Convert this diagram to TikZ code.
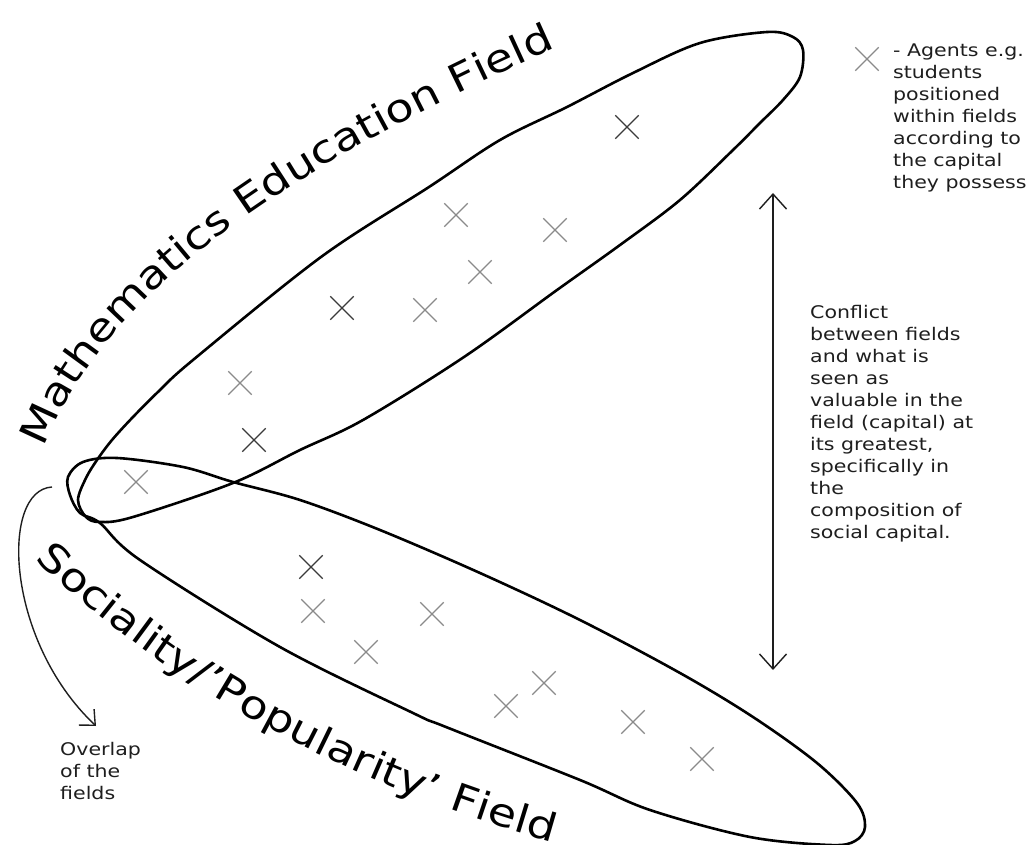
\documentclass[tikz,border=0pt]{standalone}
\usepackage{fontspec}
\setmainfont{DejaVu Sans}[FakeStretch=1.18]
\usetikzlibrary{shapes.misc,arrows.meta,decorations.text}
\definecolor{agentlight}{HTML}{8A8A8A}
\definecolor{agentdark}{HTML}{3A3A3A}
\definecolor{inkc}{HTML}{1E1E1E}
\newcommand\bigfieldfont{\fontsize{39}{46}\selectfont}
\tikzset{
  agent/.style={cross out,draw=agentlight,line width=1.3pt,minimum width=22pt,minimum height=22pt,inner sep=0pt},
  agentd/.style={agent,draw=agentdark},
  fieldline/.style={draw=black,line width=2.6pt},
  curvedlabel/.style={decorate,decoration={text along path,text format delimiters={|}{|},text={|\bigfieldfont|#1}}},
  note/.style={font=\fontsize{17.4}{22}\selectfont,align=left,anchor=north west,inner sep=0pt,text=inkc},
  conn/.style={draw=inkc,line width=1.4pt},
}
\begin{document}
\begin{tikzpicture}[x=1pt,y=-1pt]
\useasboundingbox (0,0) rectangle (1029,845);
\fill[white] (0,0) rectangle (1029,845);
% Mathematics Education field
\path[fieldline] plot[smooth cycle,tension=0.55] coordinates {
 (78,500) (86,478) (97,460) (112,440) (133,417) (160,390) (193,360) (321,257)
 (429,187) (500,140) (567,107) (633,73) (700,43) (767,32) (793,37) (803,50)
 (800,77) (783,100) (760,123) (733,150) (680,200) (620,245) (557,290) (464,357)
 (363,420) (300,450) (233,483) (133,517) (100,522) (86,517)};
% Sociality field
\path[fieldline] plot[smooth cycle,tension=0.55] coordinates {
 (68,477) (83,462) (117,458) (183,467) (233,482) (300,500) (380,530) (480,573)
 (580,620) (680,673) (753,717) (817,763) (857,803) (865,827) (855,841) (830,845)
 (750,837) (650,810) (580,780) (446,727) (413,713) (280,647) (140,560) (100,523)
 (80,513) (70,495)};
% curved field labels
\coordinate (mstart) at (44,448);
\coordinate (mc1) at (103,301);
\coordinate (mc2) at (257,181);
\coordinate (mend) at (560,46);
\path[curvedlabel={Mathematics Education Field}] (mstart) .. controls (mc1) and (mc2) .. (mend);
\coordinate (sstart) at (35,559);
\coordinate (sc1) at (170,689);
\coordinate (sc2) at (355,789);
\coordinate (send) at (566,846);
\path[curvedlabel={Sociality/'Popularity' Field}] (sstart) .. controls (sc1) and (sc2) .. (send);
% agents in maths field
\node[agentd] (m1) at (627,127) {};
\node[agent] (m2) at (456,215) {};
\node[agent] (m3) at (555,230) {};
\node[agent] (m4) at (480,272) {};
\node[agentd] (m5) at (342,308) {};
\node[agent] (m6) at (425,310) {};
\node[agent] (m7) at (240,383) {};
\node[agentd] (m8) at (254,440) {};
\node[agent] (m9) at (136,482) {};
% agents in social field
\node[agentd] (s1) at (311,567) {};
\node[agent] (s2) at (313,611) {};
\node[agent] (s3) at (432,614) {};
\node[agent] (s4) at (366,652) {};
\node[agent] (s5) at (544,683) {};
\node[agent] (s6) at (506,706) {};
\node[agent] (s7) at (633,722) {};
\node[agent] (s8) at (702,759) {};
% legend
\node[agent] (leg) at (867,59) {};
\node[note] (legtxt) at (893,44) {- Agents e.g.\\students\\positioned\\within fields\\according to\\the capital\\they possess};
% conflict
\coordinate (ctop) at (773,193);
\coordinate (cbot) at (773,670);
\draw[conn,{Straight Barb[length=15pt,width=27pt]}-{Straight Barb[length=15pt,width=27pt]}] (ctop) -- (cbot);
\node[note] (conf) at (810,305) {Conflict\\between fields\\and what is\\seen as\\valuable in the\\field (capital) at\\its greatest,\\specifically in\\the\\composition of\\social capital.};
% overlap
\coordinate (ostart) at (52,487);
\node[note] (ovl) at (60,742) {Overlap\\of the\\fields};
\coordinate (oend) at (96,726);
\draw[conn,-{Straight Barb[length=12pt,width=22pt]}] (ostart) .. controls (0,490) and (5,640) .. (oend);
\end{tikzpicture}
\end{document}
